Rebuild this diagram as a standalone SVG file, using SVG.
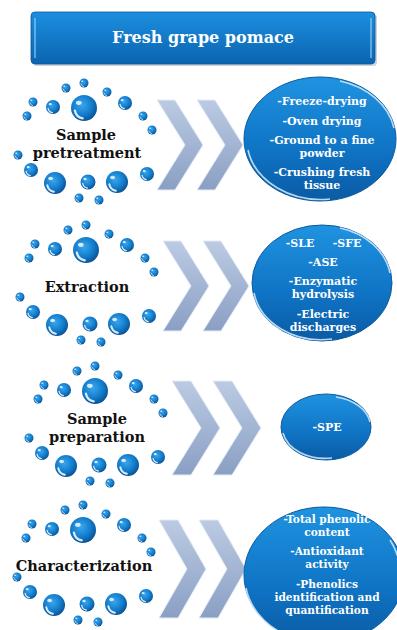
<svg xmlns="http://www.w3.org/2000/svg" xmlns:xlink="http://www.w3.org/1999/xlink" width="397" height="630" viewBox="0 0 397 630">
<style>
.lbl{font-family:"DejaVu Serif","Liberation Serif",serif;font-weight:bold;font-size:14.5px;fill:#111;text-anchor:middle}
.et{font-family:"DejaVu Serif","Liberation Serif",serif;font-weight:bold;font-size:11px;fill:#fff;text-anchor:middle}
.et4{font-size:10.6px}
.hd{font-family:"DejaVu Serif","Liberation Serif",serif;font-weight:bold;font-size:16px;fill:#fff;text-anchor:middle}
.chev{fill:url(#chg);stroke:#e4ecf7;stroke-width:1}
.ell{fill:url(#elg);stroke:#0b5aa0;stroke-width:1}
.rim{fill:none;stroke:#d6ecfc;stroke-width:1.6;opacity:0.85}
</style>
<defs>
<linearGradient id="chg" x1="0" y1="0" x2="0" y2="1">
<stop offset="0" stop-color="#bccbe3"/><stop offset="1" stop-color="#8a9fc4"/>
</linearGradient>
<linearGradient id="elg" x1="0" y1="0" x2="0" y2="1">
<stop offset="0" stop-color="#1f93e0"/><stop offset="0.6" stop-color="#0f73c4"/><stop offset="1" stop-color="#0a5ba4"/>
</linearGradient>
<linearGradient id="hdg" x1="0" y1="0" x2="0" y2="1">
<stop offset="0" stop-color="#1c8fdf"/><stop offset="1" stop-color="#0a64b0"/>
</linearGradient>
<radialGradient id="bg" cx="0.42" cy="0.38" r="0.65">
<stop offset="0" stop-color="#3aa6ee"/><stop offset="0.6" stop-color="#127ccb"/><stop offset="1" stop-color="#0a4f90"/>
</radialGradient>
<g id="b">
<circle r="10" fill="url(#bg)"/>
<path d="M-7,2 A7.5,7.5 0 0 0 -1,8" fill="none" stroke="#fff" stroke-width="1.8" stroke-linecap="round" opacity="0.85"/>
<ellipse cx="-4" cy="-4" rx="2.2" ry="1.6" fill="#fff" opacity="0.8"/>
</g>
<g id="ring">
<use xlink:href="#b" transform="translate(84,83) scale(0.45)"/>
<use xlink:href="#b" transform="translate(66,88) scale(0.45)"/>
<use xlink:href="#b" transform="translate(107,92) scale(0.45)"/>
<use xlink:href="#b" transform="translate(33,102) scale(0.45)"/>
<use xlink:href="#b" transform="translate(53,107) scale(0.7)"/>
<use xlink:href="#b" transform="translate(84,108) scale(1.3)"/>
<use xlink:href="#b" transform="translate(125,103) scale(0.7)"/>
<use xlink:href="#b" transform="translate(27,116) scale(0.45)"/>
<use xlink:href="#b" transform="translate(143,116) scale(0.45)"/>
<use xlink:href="#b" transform="translate(152,130) scale(0.45)"/>
<use xlink:href="#b" transform="translate(18,155) scale(0.45)"/>
<use xlink:href="#b" transform="translate(31,170) scale(0.7)"/>
<use xlink:href="#b" transform="translate(147,174) scale(0.7)"/>
<use xlink:href="#b" transform="translate(55,183) scale(1.1)"/>
<use xlink:href="#b" transform="translate(88,182) scale(0.75)"/>
<use xlink:href="#b" transform="translate(117,182) scale(1.1)"/>
<use xlink:href="#b" transform="translate(79,198) scale(0.45)"/>
<use xlink:href="#b" transform="translate(99,200) scale(0.45)"/>
</g>
</defs>
<rect width="397" height="630" fill="#fff"/>

<g id="header">
<rect x="33" y="14" width="344" height="52" rx="4" fill="#9aa7b5" opacity="0.5"/>
<rect x="31" y="12" width="344" height="52" rx="4" fill="url(#hdg)" stroke="#0a5598" stroke-width="0.8"/>
<line x1="35" y1="18" x2="35" y2="58" stroke="#8fcdf7" stroke-width="1.5" opacity="0.8"/>
<line x1="371" y1="18" x2="371" y2="58" stroke="#8fcdf7" stroke-width="1.5" opacity="0.8"/>
<text class="hd" x="203" y="43">Fresh grape pomace</text>
</g>

<g id="stage1">
<use xlink:href="#ring"/>
<text class="lbl" x="86" y="140">Sample</text>
<text class="lbl" x="87" y="158">pretreatment</text>
</g>
<g id="stage2">
<use xlink:href="#ring" transform="translate(2,142)"/>
<text class="lbl" x="87" y="292">Extraction</text>
</g>
<g id="stage3">
<use xlink:href="#ring" transform="translate(11,283)"/>
<text class="lbl" x="97" y="424">Sample</text>
<text class="lbl" x="97" y="442">preparation</text>
</g>
<g id="stage4">
<use xlink:href="#ring" transform="translate(-1,422)"/>
<text class="lbl" x="84" y="571">Characterization</text>
</g>

<g id="connectors">
<path class="chev" d="M157,100 L175,100 L203,145 L175,190 L157,190 L185,145 Z"/>
<path class="chev" d="M197,100 L215,100 L243,145 L215,190 L197,190 L225,145 Z"/>
<path class="chev" d="M163,241 L181,241 L209,286 L181,331 L163,331 L191,286 Z"/>
<path class="chev" d="M203,241 L221,241 L249,286 L221,331 L203,331 L231,286 Z"/>
<path class="chev" d="M172,381 L191,381 L220,428 L191,475 L172,475 L201,428 Z"/>
<path class="chev" d="M213,381 L232,381 L261,428 L232,475 L213,475 L242,428 Z"/>
<path class="chev" d="M159,520 L178,520 L206,569 L178,618 L159,618 L187,569 Z"/>
<path class="chev" d="M199,520 L218,520 L246,569 L218,618 L199,618 L227,569 Z"/>
</g>

<g id="result1">
<ellipse class="ell" cx="320" cy="139" rx="76" ry="62"/>
<path class="rim" d="M248,150 A74,60 0 0 0 330,199"/>
<path class="rim" d="M340,81 A74,60 0 0 1 394,128" opacity="0.5"/>
<text class="et" x="322" y="105">-Freeze-drying</text>
<text class="et" x="322" y="125">-Oven drying</text>
<text class="et" x="322" y="144">-Ground to a fine</text>
<text class="et" x="322" y="157">powder</text>
<text class="et" x="322" y="176">-Crushing fresh</text>
<text class="et" x="322" y="189">tissue</text>
</g>
<g id="result2">
<ellipse class="ell" cx="322" cy="283" rx="70" ry="58"/>
<path class="rim" d="M254,293 A68,56 0 0 0 332,339"/>
<path class="rim" d="M340,228 A68,56 0 0 1 390,273" opacity="0.5"/>
<text class="et" x="300" y="247">-SLE</text>
<text class="et" x="347" y="247">-SFE</text>
<text class="et" x="323" y="266">-ASE</text>
<text class="et" x="323" y="285">-Enzymatic</text>
<text class="et" x="323" y="298">hydrolysis</text>
<text class="et" x="323" y="318">-Electric</text>
<text class="et" x="323" y="331">discharges</text>
</g>
<g id="result3">
<ellipse class="ell" cx="326" cy="427" rx="45" ry="33"/>
<path class="rim" d="M283,433 A43,31 0 0 0 332,458"/>
<path class="rim" d="M336,397 A43,31 0 0 1 370,422" opacity="0.5"/>
<text class="et" x="327" y="431">-SPE</text>
</g>
<g id="result4">
<ellipse class="ell" cx="324" cy="575" rx="80" ry="68"/>
<path class="rim" d="M246,588 A78,66 0 0 0 300,640"/>
<path class="rim" d="M390,540 A78,66 0 0 1 400,570" opacity="0.5"/>
<text class="et et4" x="327" y="523">-Total phenolic</text>
<text class="et et4" x="327" y="536">content</text>
<text class="et et4" x="327" y="555">-Antioxidant</text>
<text class="et et4" x="327" y="568">activity</text>
<text class="et et4" x="327" y="588">-Phenolics</text>
<text class="et et4" x="327" y="601">identification and</text>
<text class="et et4" x="327" y="614">quantification</text>
</g>
</svg>
